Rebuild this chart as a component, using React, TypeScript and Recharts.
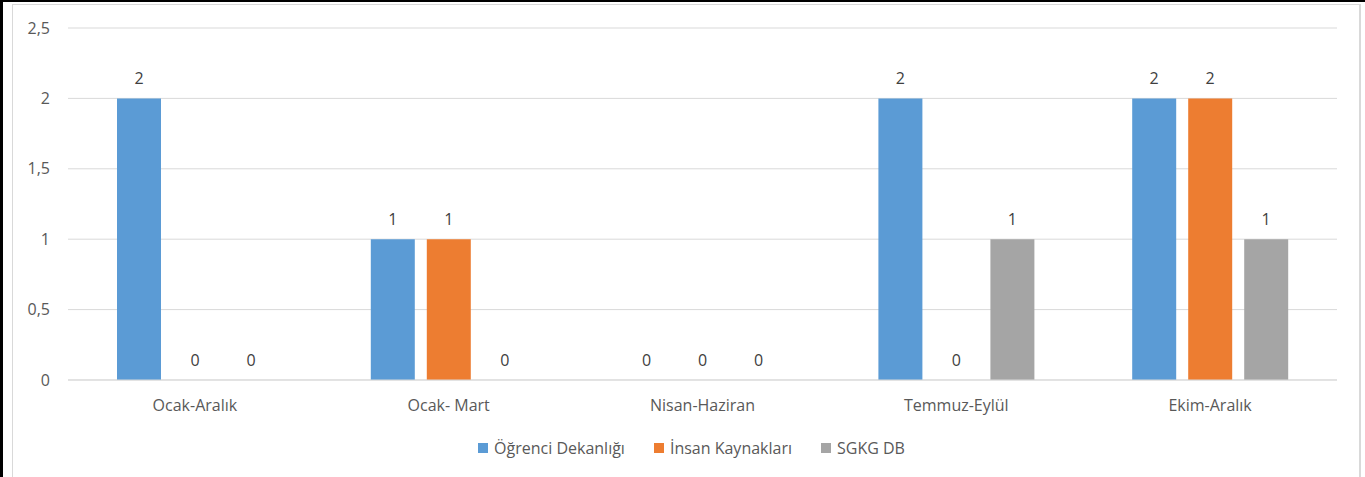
import React from "react";
import {
  BarChart,
  Bar,
  XAxis,
  YAxis,
  CartesianGrid,
  Legend,
  LabelList,
} from "recharts";

const periods = ["Ocak-Aralık", "Ocak- Mart", "Nisan-Haziran", "Temmuz-Eylül", "Ekim-Aralık"];
const ogrenciDekanligi = [2, 1, 0, 2, 2];
const insanKaynaklari = [0, 1, 0, 0, 2];
const sgkgDb = [0, 0, 0, 1, 1];
const yTicks = [0, 0.5, 1, 1.5, 2, 2.5];

const series = [
  { key: "ogr", name: "Öğrenci Dekanlığı", color: "#5B9BD5" },
  { key: "ik", name: "İnsan Kaynakları", color: "#ED7D31" },
  { key: "sgkg", name: "SGKG DB", color: "#A5A5A5" },
];

const data = periods.map((p, i) => ({
  period: p,
  ogr: ogrenciDekanligi[i],
  ik: insanKaynaklari[i],
  sgkg: sgkgDb[i],
}));

const FONT = "'Open Sans', 'Noto Sans', sans-serif";

const fmt = (v: number) => String(v).replace(".", ",");

const LegendContent = () => (
  <div
    style={{
      display: "flex",
      justifyContent: "center",
      alignItems: "center",
      gap: 29,
      fontFamily: FONT,
      fontSize: 16,
      color: "#595959",
      paddingLeft: 46,
    }}
  >
    {series.map((s) => (
      <div key={s.key} style={{ display: "flex", alignItems: "center" }}>
        <span
          style={{
            display: "inline-block",
            width: 10,
            height: 10,
            background: s.color,
            marginRight: 6,
          }}
        />
        <span>{s.name}</span>
      </div>
    ))}
  </div>
);

export default function App() {
  return (
    <div
      style={{
        position: "absolute",
        left: 0,
        top: 0,
        width: 1365,
        height: 477,
        background: "#fff",
        overflow: "hidden",
      }}
    >
      {/* outer frame */}
      <div style={{ position: "absolute", left: 0, top: 0, width: 3, height: 477, background: "#000" }} />
      <div style={{ position: "absolute", left: 0, top: 0, width: 1365, height: 2, background: "#000" }} />
      <div
        style={{
          position: "absolute",
          left: 12,
          top: 4,
          width: 1346,
          height: 500,
          borderLeft: "1px solid #d9d9d9",
          borderTop: "1px solid #d9d9d9",
          borderRight: "2px solid #d9d9d9",
        }}
      />
      <div style={{ position: "absolute", left: 0, top: 0 }}>
        <BarChart
          width={1365}
          height={477}
          data={data}
          margin={{ top: 28, right: 28, left: 0, bottom: 43 }}
          barGap={12}
          barSize={44}
        >
          <CartesianGrid vertical={false} stroke="#d9d9d9" />
          <XAxis
            dataKey="period"
            axisLine={{ stroke: "#d9d9d9" }}
            tickLine={false}
            tickSize={6}
            tickMargin={14}
            height={30}
            tick={{ fontSize: 16, fill: "#595959", fontFamily: FONT }}
          />
          <YAxis
            width={68}
            domain={[0, 2.5]}
            ticks={yTicks}
            axisLine={false}
            tickLine={false}
            tickSize={6}
            tickMargin={12}
            tickFormatter={fmt}
            tick={{ fontSize: 16, fill: "#595959", fontFamily: FONT }}
          />
          <Legend
            verticalAlign="bottom"
            content={<LegendContent />}
            wrapperStyle={{ bottom: 16, height: 24 }}
          />
          {series.map((s) => (
            <Bar
              key={s.key}
              dataKey={s.key}
              name={s.name}
              fill={s.color}
              minPointSize={0.01}
              isAnimationActive={false}
            >
              <LabelList
                dataKey={s.key}
                position="top"
                offset={14}
                fill="#404040"
                fontSize={16}
                fontFamily={FONT}
              />
            </Bar>
          ))}
        </BarChart>
      </div>
    </div>
  );
}
